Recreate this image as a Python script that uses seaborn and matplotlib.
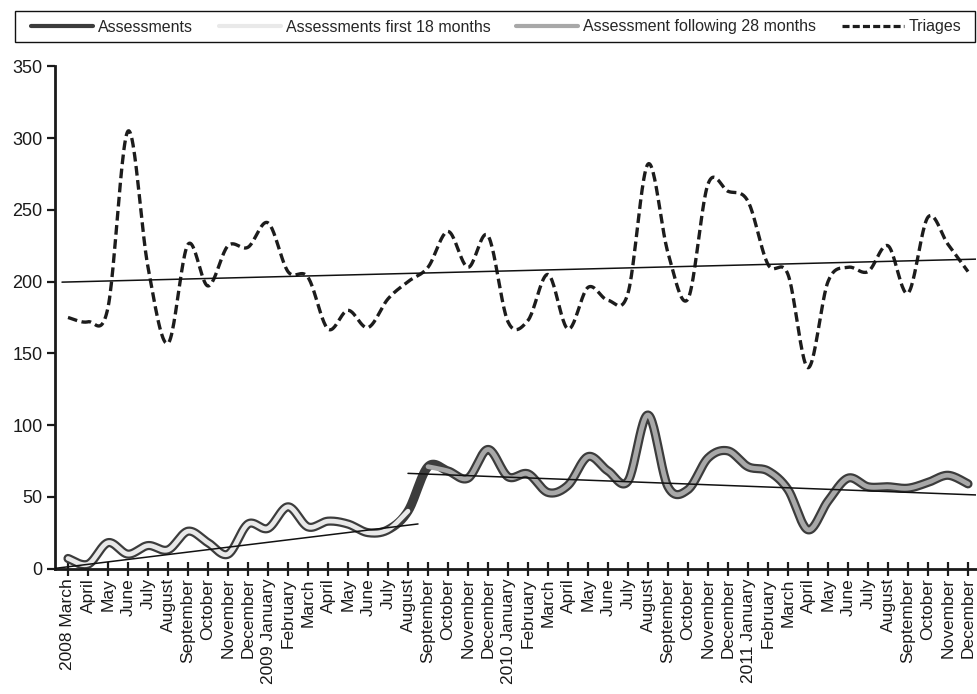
import numpy as np
import pandas as pd
import matplotlib
matplotlib.use("Agg")
import matplotlib.pyplot as plt
from matplotlib.lines import Line2D
from matplotlib.patches import Rectangle
import seaborn as sns

# ---------------- data ----------------
months = ["2008 March", "April", "May", "June", "July", "August", "September",
          "October", "November", "December",
          "2009 January", "February", "March", "April", "May", "June", "July",
          "August", "September", "October", "November", "December",
          "2010 January", "February", "March", "April", "May", "June", "July",
          "August", "September", "October", "November", "December",
          "2011 January", "February", "March", "April", "May", "June", "July",
          "August", "September", "October", "November", "December"]

assessments = [7, 3, 18, 10, 16, 13, 26, 18, 10, 31, 28, 43, 29, 33, 31, 25, 27, 40,
               71, 68, 63, 83, 64, 66, 53, 58, 78, 68, 61, 107, 57, 55, 77, 82,
               71, 68, 55, 27, 47, 63, 57, 57, 56, 60, 65, 59]

assess_first_18 = [7, 3, 18, 10, 16, 13, 26, 18, 10, 31, 28, 43, 29, 33, 31, 25, 27, 40]

assess_following_28 = [71, 68, 63, 83, 64, 66, 53, 58, 78, 68, 61, 107, 57, 55, 77, 82,
                       71, 68, 55, 27, 47, 63, 57, 57, 56, 60, 65, 59]

triages = [175, 172, 182, 305, 210, 157, 226, 197, 225, 224,
           241, 207, 203, 167, 180, 168, 188, 200, 210, 235, 210, 232,
           172, 173, 205, 167, 196, 187, 192, 282, 220, 188, 268, 263,
           256, 212, 205, 140, 200, 210, 207, 225, 192, 245, 226, 207]

# linear trend values (first month, last month of each period)
trend_first_18 = [1.2, 30.2]
trend_following_28 = [65.8, 51.5]

legend_labels = ["Assessments", "Assessments first 18 months",
                 "Assessment following 28 months", "Triages"]

# ---------------- helpers ----------------
def smooth(xs, ys, n=24):
    """Excel-like smoothed line (Catmull-Rom Bezier through the points)."""
    x = np.asarray(xs, float)
    y = np.asarray(ys, float)
    pts = np.column_stack([x, y])
    out = []
    m = len(pts)
    for i in range(m - 1):
        p0 = pts[i - 1] if i > 0 else pts[i]
        p1 = pts[i]
        p2 = pts[i + 1]
        p3 = pts[i + 2] if i + 2 < m else pts[i + 1]
        c1 = p1 + (p2 - p0) / 6.0
        c2 = p2 - (p3 - p1) / 6.0
        t = np.linspace(0, 1, n, endpoint=(i == m - 2))[:, None]
        b = ((1 - t) ** 3) * p1 + 3 * ((1 - t) ** 2) * t * c1 + 3 * (1 - t) * t ** 2 * c2 + t ** 3 * p2
        out.append(b)
    out = np.vstack(out)
    return pd.DataFrame({"x": out[:, 0], "y": out[:, 1]})

# ---------------- style ----------------
sns.set_theme(style="ticks")
plt.rcParams["font.family"] = ["Liberation Sans", "DejaVu Sans"]

fig = plt.figure(figsize=(9.78, 6.94), dpi=100)
ax = fig.add_axes([55 / 978, 1 - 568.5 / 694, (976 - 55) / 978, (568.5 - 66.5) / 694])

idx = np.arange(len(months))
n_first = len(assess_first_18)
idx_first = idx[:n_first]
idx_follow = idx[n_first:n_first + len(assess_following_28)]

c_dark = "#3c3c3c"
c_light = "#e9e9e9"
c_gray = "#a8a8a8"
c_tri = "#1c1c1c"

# Triages (dashed)
d = smooth(idx, triages)
sns.lineplot(data=d, x="x", y="y", ax=ax, color=c_tri, linewidth=2.4, sort=False,
             estimator=None, linestyle=(0, (2.9, 1.35)))

# Assessments (thick dark)
d = smooth(idx, assessments)
sns.lineplot(data=d, x="x", y="y", ax=ax, color=c_dark, linewidth=6.6, sort=False,
             estimator=None, solid_capstyle="round")

# first 18 months (light)
d = smooth(idx_first, assess_first_18)
sns.lineplot(data=d, x="x", y="y", ax=ax, color=c_light, linewidth=3.4, sort=False,
             estimator=None, solid_capstyle="round")

# following 28 months (gray)
d = smooth(idx_follow, assess_following_28)
sns.lineplot(data=d, x="x", y="y", ax=ax, color=c_gray, linewidth=3.4, sort=False,
             estimator=None, solid_capstyle="round")

xmin, xmax = -0.65, 45.4

# trend lines
slope1 = (trend_first_18[1] - trend_first_18[0]) / (idx_first[-1] - idx_first[0])
tx1 = np.array([xmin, idx_first[-1] + 0.5])
ty1 = trend_first_18[0] + slope1 * (tx1 - idx_first[0])
sns.lineplot(x=tx1, y=ty1, ax=ax, color="#111111", linewidth=1.1, sort=False, estimator=None)

slope2 = (trend_following_28[1] - trend_following_28[0]) / (idx_follow[-1] - idx_follow[0])
tx2 = np.array([idx_follow[0] - 1.0, xmax + 0.5])
ty2 = trend_following_28[0] + slope2 * (tx2 - idx_follow[0])
sns.lineplot(x=tx2, y=ty2, ax=ax, color="#111111", linewidth=1.1, sort=False, estimator=None)

k, b0 = np.polyfit(idx, triages, 1)
tx3 = np.array([-0.3, xmax + 0.5])
sns.lineplot(x=tx3, y=k * tx3 + b0, ax=ax, color="#111111", linewidth=1.1, sort=False, estimator=None)

for ln in ax.lines[-3:]:
    ln.set_zorder(5)

# axes
ax.set_xlim(xmin, xmax)
ax.set_ylim(0, 350)
ax.set_yticks(np.arange(0, 351, 50))
ax.set_xticks(idx)
ax.set_xticklabels(months, rotation=90, fontsize=12.5)
ax.set_xlabel("")
ax.set_ylabel("")
for s in ["top", "right"]:
    ax.spines[s].set_visible(False)
for s in ["left", "bottom"]:
    ax.spines[s].set_linewidth(2)
    ax.spines[s].set_color("#1a1a1a")
ax.tick_params(axis="y", direction="out", length=6, width=1.6, labelsize=13, pad=3, colors="#1a1a1a")
ax.tick_params(axis="x", direction="inout", length=10, width=1.6, labelsize=12.5, pad=2, colors="#1a1a1a")
ax.grid(False)

# legend box
fig.patches.append(Rectangle((15 / 978, 1 - 42 / 694), (975 - 15) / 978, 31 / 694,
                             transform=fig.transFigure, fill=False,
                             edgecolor="#111111", linewidth=1.0))

handles = [Line2D([], [], color=c_dark, lw=3),
           Line2D([], [], color=c_light, lw=3),
           Line2D([], [], color=c_gray, lw=3),
           Line2D([], [], color=c_tri, lw=2.3, linestyle=(0, (2.2, 1.0)))]
leg = fig.legend(handles, legend_labels, loc="center left", ncol=4,
                 bbox_to_anchor=(31 / 978, 1 - 27 / 694),
                 bbox_transform=fig.transFigure, fontsize=11.5, frameon=False,
                 handlelength=3.9, handletextpad=0.3, columnspacing=1.6,
                 borderpad=0.0, borderaxespad=0.0)

fig.savefig("out.png", dpi=100)
